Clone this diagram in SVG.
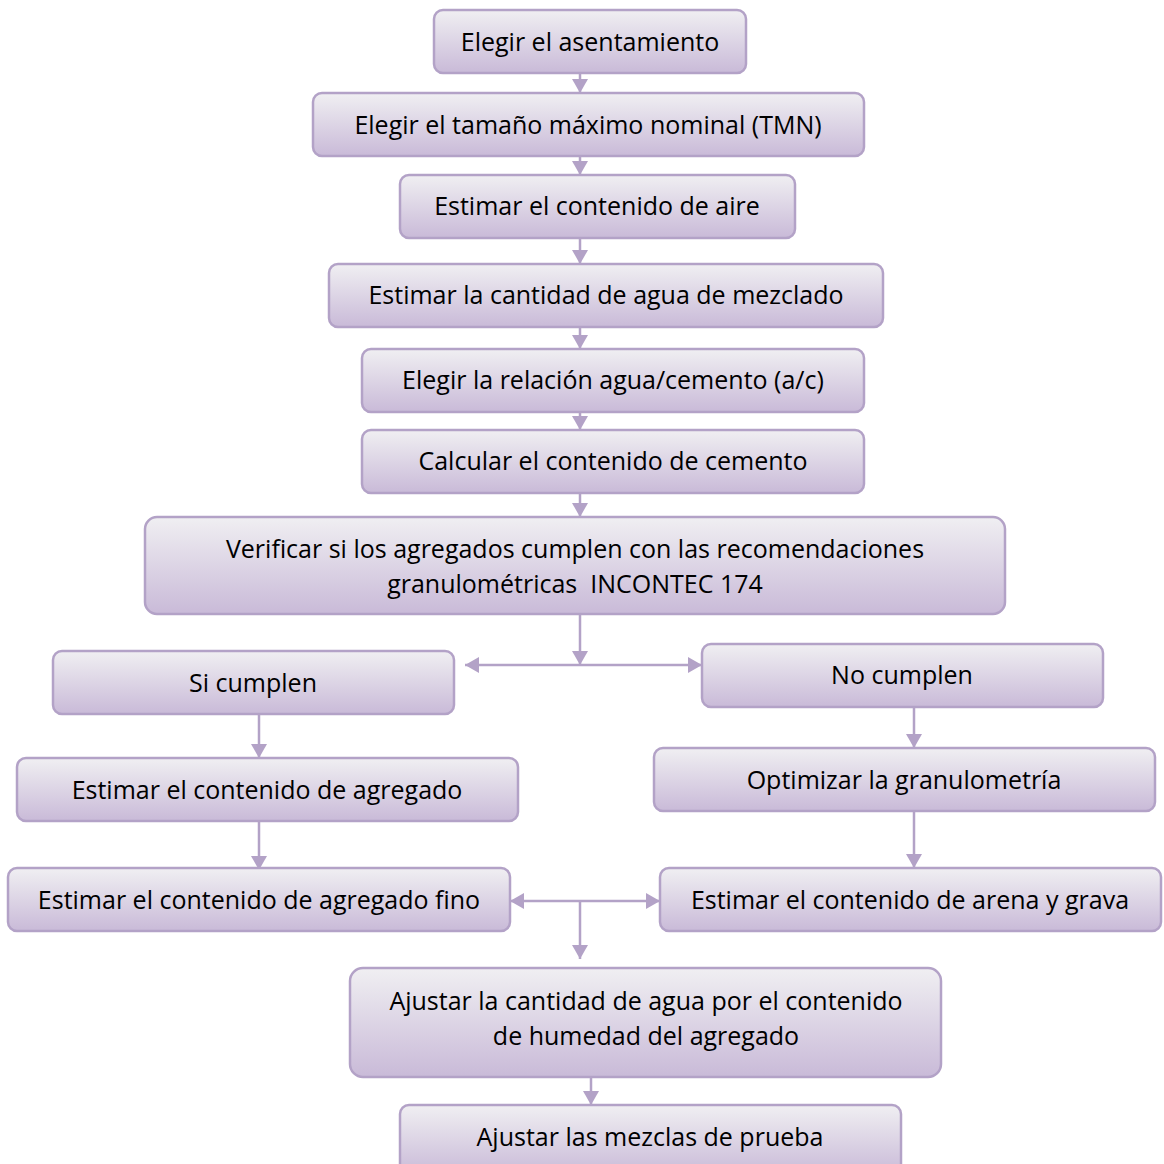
<svg xmlns="http://www.w3.org/2000/svg" width="1164" height="1164" viewBox="0 0 1164 1164">
<defs>
<linearGradient id="g" x1="0" y1="0" x2="0" y2="1">
<stop offset="0" stop-color="#f0eff2"/>
<stop offset="1" stop-color="#c9bad8"/>
</linearGradient>
<marker id="a" viewBox="0 0 14 16" refX="14" refY="8" markerWidth="14" markerHeight="16" markerUnits="userSpaceOnUse" orient="auto-start-reverse">
<path d="M0,0 L14,8 L0,16 Z" fill="#b3a2c7"/>
</marker>
</defs>
<style>
.n rect{fill:url(#g);stroke:#b3a2c7;stroke-width:2.5}
.n text{font-family:"Open Sans","Liberation Sans",sans-serif;font-size:25px;fill:#000;text-anchor:middle;dominant-baseline:central}
.c path{fill:none;stroke:#b3a2c7;stroke-width:2.5}
</style>
<rect width="1164" height="1164" fill="#fff"/>
<g class="c">
<path d="M580,73 V93" marker-end="url(#a)"/>
<path d="M580,156 V175" marker-end="url(#a)"/>
<path d="M580,238 V264" marker-end="url(#a)"/>
<path d="M580,327 V349" marker-end="url(#a)"/>
<path d="M580,412 V430" marker-end="url(#a)"/>
<path d="M580,493 V517" marker-end="url(#a)"/>
<path d="M580,614 V665" marker-end="url(#a)"/>
<path d="M465,665 H702" marker-start="url(#a)" marker-end="url(#a)"/>
<path d="M259,714 V758" marker-end="url(#a)"/>
<path d="M914,707 V748" marker-end="url(#a)"/>
<path d="M259,821 V870" marker-end="url(#a)"/>
<path d="M914,811 V868" marker-end="url(#a)"/>
<path d="M510,901 H660" marker-start="url(#a)" marker-end="url(#a)"/>
<path d="M580,901 V959" marker-end="url(#a)"/>
<path d="M591,1077 V1105" marker-end="url(#a)"/>
</g>
<g class="n" id="n1"><rect x="434" y="10" width="312" height="63" rx="9"/><text x="590" y="41">Elegir el asentamiento</text></g>
<g class="n" id="n2"><rect x="313" y="93" width="551" height="63" rx="9"/><text x="588" y="124">Elegir el tamaño máximo nominal (TMN)</text></g>
<g class="n" id="n3"><rect x="400" y="175" width="395" height="63" rx="9"/><text x="597" y="205">Estimar el contenido de aire</text></g>
<g class="n" id="n4"><rect x="329" y="264" width="554" height="63" rx="9"/><text x="606" y="294">Estimar la cantidad de agua de mezclado</text></g>
<g class="n" id="n5"><rect x="362" y="349" width="502" height="63" rx="9"/><text x="613" y="379">Elegir la relación agua/cemento (a/c)</text></g>
<g class="n" id="n6"><rect x="362" y="430" width="502" height="63" rx="9"/><text x="613" y="460">Calcular el contenido de cemento</text></g>
<g class="n" id="n7"><rect x="145" y="517" width="860" height="97" rx="12"/><text x="575" y="548">Verificar si los agregados cumplen con las recomendaciones</text><text x="575" y="583" xml:space="preserve">granulométricas  INCONTEC 174</text></g>
<g class="n" id="n8"><rect x="53" y="651" width="401" height="63" rx="9"/><text x="253" y="682">Si cumplen</text></g>
<g class="n" id="n9"><rect x="702" y="644" width="401" height="63" rx="9"/><text x="902" y="674">No cumplen</text></g>
<g class="n" id="n10"><rect x="17" y="758" width="501" height="63" rx="9"/><text x="267" y="789">Estimar el contenido de agregado</text></g>
<g class="n" id="n11"><rect x="654" y="748" width="501" height="63" rx="9"/><text x="904" y="779">Optimizar la granulometría</text></g>
<g class="n" id="n12"><rect x="8" y="868" width="502" height="63" rx="9"/><text x="259" y="899">Estimar el contenido de agregado fino</text></g>
<g class="n" id="n13"><rect x="660" y="868" width="501" height="63" rx="9"/><text x="910" y="899">Estimar el contenido de arena y grava</text></g>
<g class="n" id="n14"><rect x="350" y="968" width="591" height="109" rx="13"/><text x="646" y="1000">Ajustar la cantidad de agua por el contenido</text><text x="646" y="1035">de humedad del agregado</text></g>
<g class="n" id="n15"><rect x="400" y="1105" width="501" height="70" rx="9"/><text x="650" y="1136">Ajustar las mezclas de prueba</text></g>
</svg>
